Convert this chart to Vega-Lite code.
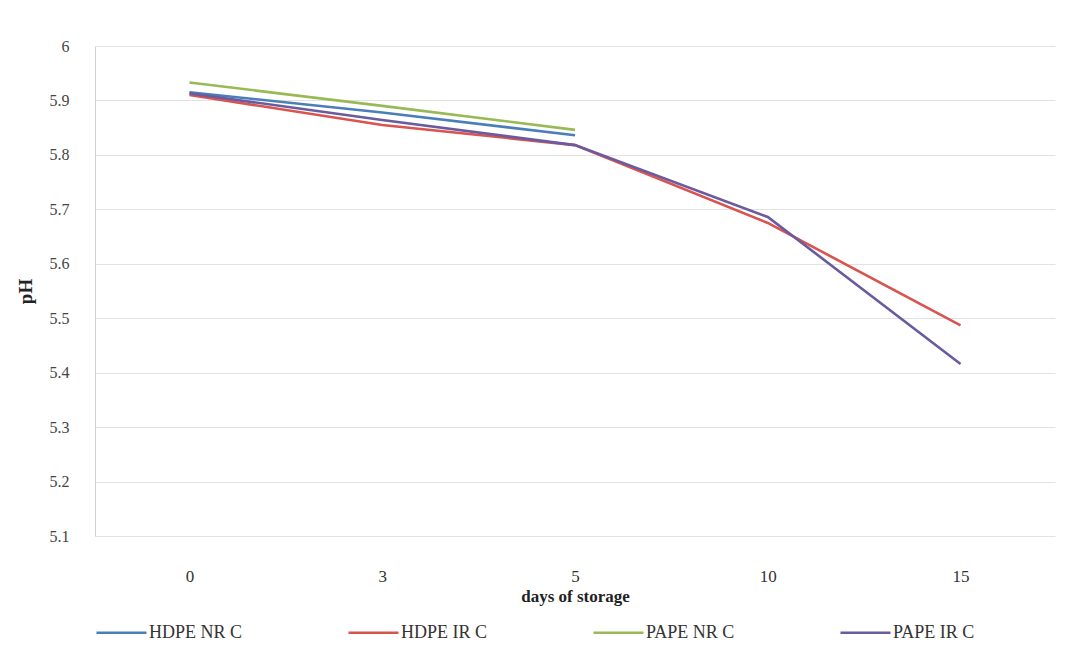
{
  "$schema": "https://vega.github.io/schema/vega-lite/v6.json",
  "autosize": {"type": "none"},
  "padding": {"left": 95, "top": 46, "right": 12, "bottom": 125},
  "width": 960,
  "height": 490,
  "background": "white",
  "config": {
    "view": {"stroke": null},
    "font": "Liberation Serif"
  },
  "data": {
    "values": [
      {"day": "0", "series": "HDPE NR C", "pH": 5.915},
      {"day": "3", "series": "HDPE NR C", "pH": 5.878},
      {"day": "5", "series": "HDPE NR C", "pH": 5.836},
      {"day": "0", "series": "HDPE IR C", "pH": 5.91},
      {"day": "3", "series": "HDPE IR C", "pH": 5.855},
      {"day": "5", "series": "HDPE IR C", "pH": 5.818},
      {"day": "10", "series": "HDPE IR C", "pH": 5.675},
      {"day": "15", "series": "HDPE IR C", "pH": 5.487},
      {"day": "0", "series": "PAPE NR C", "pH": 5.933},
      {"day": "3", "series": "PAPE NR C", "pH": 5.89},
      {"day": "5", "series": "PAPE NR C", "pH": 5.846},
      {"day": "0", "series": "PAPE IR C", "pH": 5.913},
      {"day": "3", "series": "PAPE IR C", "pH": 5.864},
      {"day": "5", "series": "PAPE IR C", "pH": 5.818},
      {"day": "10", "series": "PAPE IR C", "pH": 5.686},
      {"day": "15", "series": "PAPE IR C", "pH": 5.416}
    ]
  },
  "mark": {"type": "line", "strokeWidth": 2.6},
  "encoding": {
    "x": {
      "field": "day",
      "type": "ordinal",
      "sort": ["0", "3", "5", "10", "15"],
      "scale": {"type": "point", "padding": 0.49},
      "axis": {
        "title": "days of storage",
        "titleFont": "Times New Roman",
        "titleFontSize": 17,
        "titleFontWeight": "bold",
        "titleColor": "#222222",
        "titlePadding": 4,
        "labelAngle": 0,
        "labelFont": "Times New Roman",
        "labelFontSize": 17,
        "labelColor": "#333333",
        "labelPadding": 32,
        "domain": false,
        "ticks": false,
        "grid": false
      }
    },
    "y": {
      "field": "pH",
      "type": "quantitative",
      "scale": {"domain": [5.1, 6.0], "nice": false, "zero": false},
      "axis": {
        "values": [5.1, 5.2, 5.3, 5.4, 5.5, 5.6, 5.7, 5.8, 5.9, 6.0],
        "format": ".1~f",
        "title": "pH",
        "titleFont": "Times New Roman",
        "titleFontSize": 19,
        "titleFontWeight": "bold",
        "titleColor": "#222222",
        "titleX": -60,
        "titleY": 245,
        "labelFont": "Times New Roman",
        "labelFontSize": 16,
        "labelColor": "#444444",
        "labelPadding": 26,
        "domain": true,
        "domainColor": "#d0d0d0",
        "ticks": false,
        "grid": true,
        "gridColor": "#e2e2e2",
        "gridWidth": 1.2
      }
    },
    "color": {
      "field": "series",
      "type": "nominal",
      "sort": ["HDPE NR C", "HDPE IR C", "PAPE NR C", "PAPE IR C"],
      "scale": {
        "domain": ["HDPE NR C", "HDPE IR C", "PAPE NR C", "PAPE IR C"],
        "range": ["#4a7ebb", "#d9534f", "#98b954", "#6a5a9e"]
      },
      "legend": {
        "title": null,
        "orient": "bottom",
        "direction": "horizontal",
        "offset": 2,
        "padding": 0,
        "symbolType": "stroke",
        "symbolSize": 2500,
        "symbolStrokeWidth": 2.6,
        "labelFont": "Times New Roman",
        "labelFontSize": 18,
        "labelColor": "#333333",
        "labelOffset": 1,
        "columnPadding": 100,
        "labelLimit": 300
      }
    },
    "order": {"field": "series"}
  }
}
